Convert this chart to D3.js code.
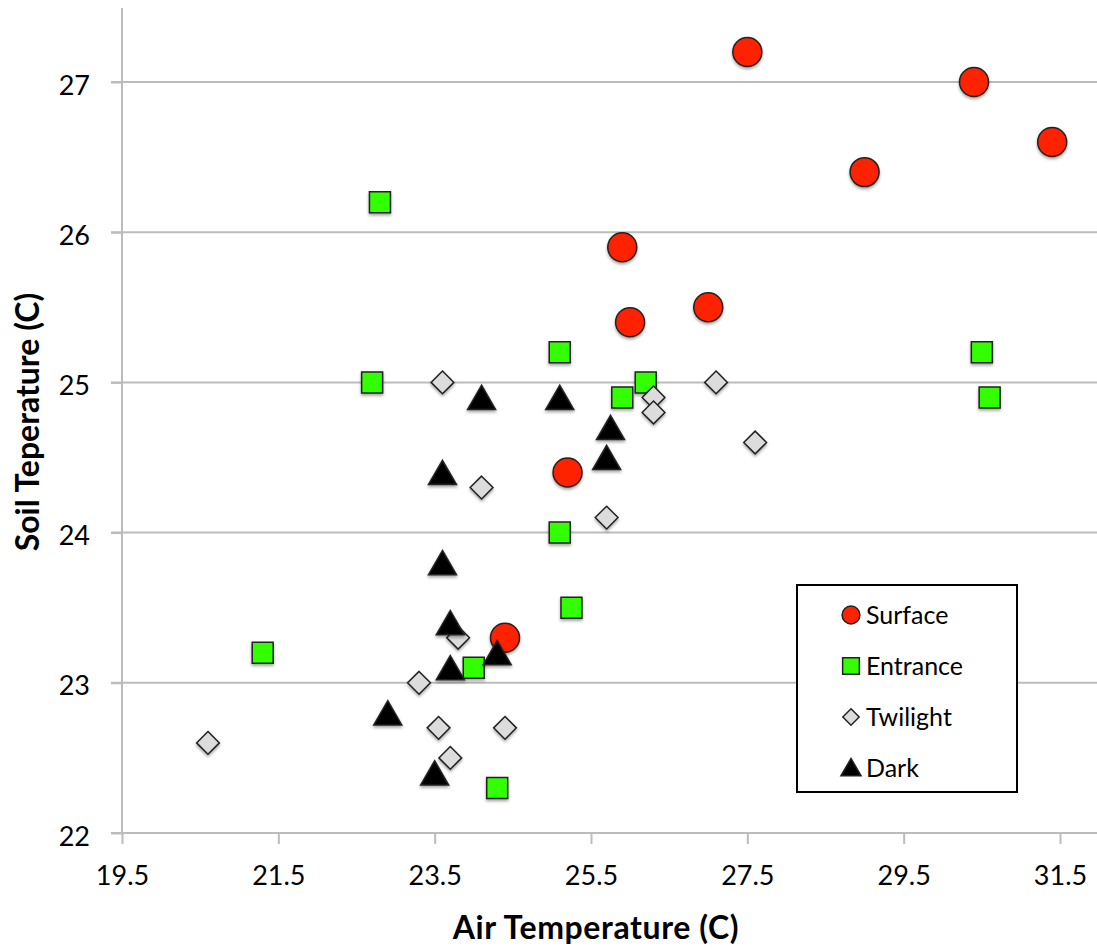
<!DOCTYPE html>
<html>
<head>
<meta charset="utf-8">
<script src="https://cdn.jsdelivr.net/npm/d3@7"></script>
<style>
  body { margin: 0; background: #fff; }
  svg text { font-family: Lato, "Open Sans", sans-serif; fill: #000; }
</style>
</head>
<body>
<div id="chart"></div>
<script>
// Data: [air temp, soil temp]
const surface = [[27.5, 27.2], [30.4, 27.0], [31.4, 26.6], [29.0, 26.4], [25.9, 25.9],
  [26.0, 25.4], [27.0, 25.5], [25.2, 24.4], [24.4, 23.3]];
const entrance = [[22.8, 26.2], [22.7, 25.0], [25.1, 25.2], [26.2, 25.0], [25.9, 24.9],
  [30.5, 25.2], [30.6, 24.9], [25.1, 24.0], [25.25, 23.5], [21.3, 23.2], [24.0, 23.1], [24.3, 22.3]];
const twilight = [[23.6, 25.0], [24.1, 24.3], [27.1, 25.0], [26.3, 24.9], [26.3, 24.8],
  [27.6, 24.6], [25.7, 24.1], [23.8, 23.3], [23.3, 23.0], [23.55, 22.7], [24.4, 22.7],
  [23.7, 22.5], [20.6, 22.6]];
const dark = [[24.1, 24.9], [25.1, 24.9], [25.75, 24.7], [25.7, 24.5], [23.6, 24.4],
  [23.6, 23.8], [23.7, 23.4], [23.7, 23.1], [24.3, 23.2], [22.9, 22.8], [23.5, 22.4]];

const xTicks = [19.5, 21.5, 23.5, 25.5, 27.5, 29.5, 31.5];
const yTicks = [22, 23, 24, 25, 26, 27];
const seriesNames = ["Surface", "Entrance", "Twilight", "Dark"];

const width = 1097, height = 949;
const svg = d3.select("#chart").append("svg")
  .attr("width", width)
  .attr("height", height);

const x = d3.scaleLinear().domain([19.5, 31.5]).range([122, 1060]);
const y = d3.scaleLinear().domain([22, 27]).range([833, 82]);

// soft drop shadow like the original markers
const defs = svg.append("defs");
const f = defs.append("filter").attr("id", "shadow")
  .attr("x", "-50%").attr("y", "-50%").attr("width", "200%").attr("height", "200%");
f.append("feDropShadow").attr("dx", 0).attr("dy", 2).attr("stdDeviation", 1.5)
  .attr("flood-color", "#000").attr("flood-opacity", 0.35);

// horizontal gridlines
svg.append("g")
  .selectAll("line")
  .data(yTicks.slice(1))
  .enter().append("line")
  .attr("x1", 111).attr("x2", width)
  .attr("y1", d => y(d)).attr("y2", d => y(d))
  .attr("stroke", "#bcbcbc").attr("stroke-width", 2);

// Y axis
const yAxis = svg.append("g")
  .attr("transform", "translate(122,0)")
  .call(d3.axisLeft(y).tickValues(yTicks).tickFormat(d3.format("d")).tickSize(11).tickPadding(21));
yAxis.select(".domain").remove();
yAxis.selectAll(".tick line").attr("stroke", "#bcbcbc").attr("stroke-width", 2);
yAxis.selectAll(".tick text").style("font-size", "27px").attr("dy", "0.45em");
svg.append("line")
  .attr("x1", 122).attr("x2", 122).attr("y1", 8).attr("y2", 833)
  .attr("stroke", "#bcbcbc").attr("stroke-width", 2);

// X axis
const xAxis = svg.append("g")
  .attr("transform", "translate(0,833)")
  .call(d3.axisBottom(x).tickValues(xTicks).tickFormat(d3.format(".1f")).tickSize(11).tickPadding(22));
xAxis.select(".domain").remove();
xAxis.selectAll(".tick line").attr("stroke", "#bcbcbc").attr("stroke-width", 2);
xAxis.selectAll(".tick text").style("font-size", "27px");
svg.append("line")
  .attr("x1", 111).attr("x2", width).attr("y1", 833).attr("y2", 833)
  .attr("stroke", "#bcbcbc").attr("stroke-width", 2);

// Axis titles
svg.append("text")
  .attr("x", 596).attr("y", 939)
  .attr("text-anchor", "middle")
  .style("font-size", "32px").style("font-weight", "bold")
  .style("letter-spacing", "0.6px")
  .text("Air Temperature (C)");

svg.append("text")
  .attr("transform", "translate(39,422) rotate(-90)")
  .attr("text-anchor", "middle")
  .style("font-size", "32px").style("font-weight", "bold")
  .text("Soil Teperature (C)");

// marker shapes (dy: triangles are centred on their box, not their centroid)
const styles = {
  Surface: { shape: d3.symbolCircle, fill: "#ff2200", size: 660, legendSize: 250, dy: 0 },
  Entrance: { shape: d3.symbolSquare, fill: "#33ff00", size: 440, legendSize: 280, dy: 0 },
  Twilight: { shape: d3.symbolDiamond2, fill: "#dcdcdc", size: 330, legendSize: 170, dy: 0 },
  Dark: { shape: d3.symbolTriangle, fill: "#000", size: 340, legendSize: 175, dy: 4 }
};

function drawSeries(data, name) {
  const s = styles[name];
  svg.append("g")
    .attr("filter", "url(#shadow)")
    .selectAll("path")
    .data(data)
    .enter().append("path")
    .attr("transform", d => "translate(" + x(d[0]) + "," + (y(d[1]) + s.dy) + ")")
    .attr("d", d3.symbol().type(s.shape).size(s.size))
    .attr("fill", s.fill)
    .attr("stroke", "#222")
    .attr("stroke-width", 1.5);
}

drawSeries(surface, "Surface");
drawSeries(entrance, "Entrance");
drawSeries(twilight, "Twilight");
drawSeries(dark, "Dark");

// Legend
const legend = svg.append("g");
legend.append("rect")
  .attr("x", 797).attr("y", 585).attr("width", 220).attr("height", 207)
  .attr("fill", "#fff").attr("stroke", "#000").attr("stroke-width", 2);

const rows = legend.selectAll(".row")
  .data(seriesNames)
  .enter().append("g")
  .attr("class", "row")
  .attr("transform", (d, i) => "translate(851," + (615 + i * 51) + ")");

rows.append("path")
  .attr("transform", d => "translate(0," + styles[d].dy / 2 + ")")
  .attr("d", d => d3.symbol().type(styles[d].shape).size(styles[d].legendSize)())
  .attr("fill", d => styles[d].fill)
  .attr("stroke", "#222")
  .attr("stroke-width", 1.5);

rows.append("text")
  .attr("x", 15)
  .attr("dy", "0.36em")
  .style("font-size", "25px")
  .text(d => d);
</script>
</body>
</html>
